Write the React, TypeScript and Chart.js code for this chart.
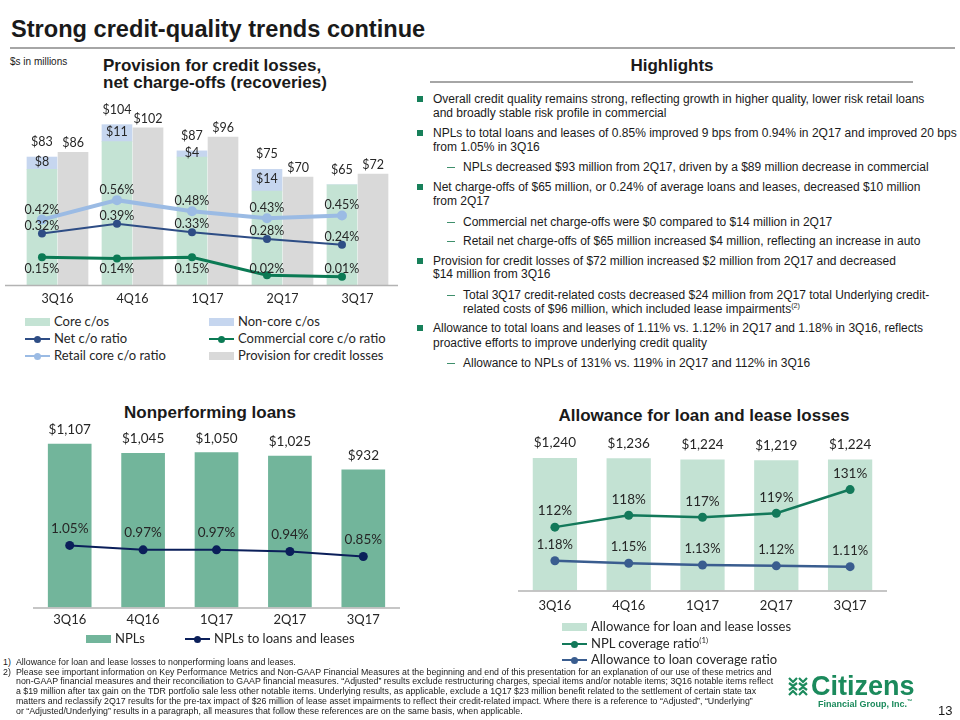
import React, { useEffect, useRef } from 'react';
import { Chart, registerables } from 'chart.js';

Chart.register(...registerables);

// ---------- data ----------
const quarters = ['3Q16', '4Q16', '1Q17', '2Q17', '3Q17'];

const coreCos = [75, 93, 83, 61, 65];
const nonCoreCos = [8, 11, 4, 14, 0];
const provision = [86, 102, 96, 70, 72];
const netCoRatio = [0.32, 0.39, 0.33, 0.28, 0.24];
const commercialCoRatio = [0.15, 0.14, 0.15, 0.02, 0.01];
const retailCoRatio = [0.42, 0.56, 0.48, 0.43, 0.45];

const npls = [1107, 1045, 1050, 1025, 932];
const nplRatio = [1.05, 0.97, 0.97, 0.94, 0.85];

const alll = [1240, 1236, 1224, 1219, 1224];
const nplCoverage = [112, 118, 117, 119, 131];
const allowanceToLoans = [1.18, 1.15, 1.13, 1.12, 1.11];

// ---------- style ----------
const SLIDE_FONT = '"Liberation Sans", Arial, sans-serif';
const CHART_FONT = 'Lato, "Liberation Sans", sans-serif';
const TXT = '#1a1a1a';
const LBL = '#262626';
const AXIS = '#b3b3b3';

const C = {
  core: '#c4e3d4',
  noncore: '#c6d6ef',
  prov: '#d9d9d9',
  retail: '#9bbbe4',
  net: '#2e4d85',
  comm: '#0b7a54',
  nplBar: '#72b59b',
  nplLine: '#0b1f5a',
  alllBar: '#c3e2d3',
  cov: '#13795a',
  allow: '#3a5d8f',
  green: '#1b8a5c',
};

const money = (v: number) => '$' + v.toLocaleString('en-US');
const pct2 = (v: number) => v.toFixed(2) + '%';

function axisLinePlugin(extLeft: number, extRight: number) {
  return {
    id: 'axisLine',
    afterDatasetsDraw(chart: any) {
      const { ctx, chartArea } = chart;
      ctx.save();
      ctx.strokeStyle = AXIS;
      ctx.lineWidth = 1.5;
      ctx.beginPath();
      ctx.moveTo(chartArea.left - extLeft, chartArea.bottom + 0.5);
      ctx.lineTo(chartArea.right + extRight, chartArea.bottom + 0.5);
      ctx.stroke();
      ctx.restore();
    },
  };
}

function text(ctx: any, s: string, x: number, y: number, size: number) {
  ctx.font = `${size}px ${CHART_FONT}`;
  ctx.fillStyle = LBL;
  ctx.textAlign = 'center';
  ctx.textBaseline = 'middle';
  ctx.fillText(s, x, y);
}

// ---------- chart 1 ----------
// bars of one quarter sit side by side: charge-offs left of the quarter centre, provision right
const GROUP_SHIFT = 0.207; // in quarter units
const BAR_W1 = 30;

function makeChart1(): any {
  const at = (arr: number[], dx: number) => arr.map((v, i) => ({ x: i + dx, y: v }));
  const lineDs = (label: string, data: number[], color: string, width: number, r: number) => ({
    type: 'line',
    label,
    data: at(data, -GROUP_SHIFT),
    yAxisID: 'yRatio',
    borderColor: color,
    backgroundColor: color,
    borderWidth: width,
    pointRadius: r,
    pointBorderWidth: 0,
    pointBackgroundColor: color,
    tension: 0,
    order: 0,
  });
  const barDs = (label: string, data: number[], dx: number, color: string, stack: string) => ({
    type: 'bar', label, data: at(data, dx), backgroundColor: color, stack, order: 1,
    grouped: false, barThickness: BAR_W1,
  });
  return {
    type: 'bar',
    data: {
      datasets: [
        barDs('Core c/os', coreCos, -GROUP_SHIFT, C.core, 'cos'),
        barDs('Non-core c/os', nonCoreCos, -GROUP_SHIFT, C.noncore, 'cos'),
        barDs('Provision for credit losses', provision, GROUP_SHIFT, C.prov, 'prov'),
        lineDs('Retail core c/o ratio', retailCoRatio, C.retail, 4, 5),
        lineDs('Net c/o ratio', netCoRatio, C.net, 2, 4),
        lineDs('Commercial core c/o ratio', commercialCoRatio, C.comm, 3, 4),
      ],
    },
    options: {
      responsive: false,
      animation: false,
      layout: { padding: { left: 20, right: 10, top: 5, bottom: 0 } },
      plugins: { legend: { display: false }, tooltip: { enabled: false } },
      scales: {
        x: {
          type: 'linear', offset: false, min: -0.5, max: 4.5,
          afterBuildTicks: (axis: any) => { axis.ticks = quarters.map((_, i) => ({ value: i })); },
          grid: { display: false, drawTicks: false }, border: { display: false },
          ticks: {
            padding: 6, color: LBL, font: { family: CHART_FONT, size: 12.5 },
            autoSkip: false, maxRotation: 0,
            callback: (v: number) => quarters[Math.round(v)] ?? '',
          },
        },
        y: { display: false, stacked: true, min: 0, max: 120 },
        yRatio: { display: false, min: -0.05, max: 1.28 },
      },
    },
    plugins: [
      axisLinePlugin(15, 3),
      {
        id: 'labels1',
        afterDatasetsDraw(chart: any) {
          const ctx = chart.ctx;
          ctx.save();
          const mCore = chart.getDatasetMeta(0).data;
          const mNon = chart.getDatasetMeta(1).data;
          const mProv = chart.getDatasetMeta(2).data;
          const mRet = chart.getDatasetMeta(3).data;
          const mNet = chart.getDatasetMeta(4).data;
          const mCom = chart.getDatasetMeta(5).data;
          const bottom = chart.chartArea.bottom;
          quarters.forEach((_, i) => {
            const top = Math.min(mCore[i].y, mNon[i].y);
            text(ctx, money(coreCos[i] + nonCoreCos[i]), mCore[i].x, top - 15, 12.5);
            if (nonCoreCos[i] > 0) {
              text(ctx, money(nonCoreCos[i]), mNon[i].x, (mNon[i].y + mNon[i].base) / 2 - 1, 12.5);
            }
            text(ctx, money(provision[i]), mProv[i].x, mProv[i].y - 9, 12.5);
            text(ctx, pct2(retailCoRatio[i]), mRet[i].x, mRet[i].y - 10, 12.5);
            text(ctx, pct2(netCoRatio[i]), mNet[i].x, mNet[i].y - 8, 12.5);
            text(ctx, pct2(commercialCoRatio[i]), mCom[i].x, Math.min(mCom[i].y + 12, bottom - 16), 12.5);
          });
          ctx.restore();
        },
      },
    ],
  };
}

// ---------- chart 2 ----------
function makeChart2(): any {
  return {
    type: 'bar',
    data: {
      labels: quarters,
      datasets: [
        {
          type: 'line', label: 'NPLs to loans and leases', data: nplRatio, yAxisID: 'yRatio',
          borderColor: C.nplLine, backgroundColor: C.nplLine, borderWidth: 2, pointRadius: 4.5,
          pointBorderWidth: 0, tension: 0, order: 0,
        },
        {
          type: 'bar', label: 'NPLs', data: npls, backgroundColor: C.nplBar,
          categoryPercentage: 0.595, barPercentage: 1, order: 1,
        },
      ],
    },
    options: {
      responsive: false,
      animation: false,
      layout: { padding: { left: 33, right: 10, top: 10, bottom: 0 } },
      plugins: { legend: { display: false }, tooltip: { enabled: false } },
      scales: {
        x: {
          offset: true,
          grid: { display: false, drawTicks: false }, border: { display: false },
          ticks: { padding: 4.5, color: LBL, font: { family: CHART_FONT, size: 13 } },
        },
        y: { display: false, min: 0, max: 1200 },
        yRatio: { display: false, min: -0.06, max: 3.115 },
      },
    },
    plugins: [
      axisLinePlugin(0, 0),
      {
        id: 'labels2',
        afterDatasetsDraw(chart: any) {
          const ctx = chart.ctx;
          ctx.save();
          const mLine = chart.getDatasetMeta(0).data;
          const mBar = chart.getDatasetMeta(1).data;
          quarters.forEach((_, i) => {
            text(ctx, money(npls[i]), mBar[i].x, mBar[i].y - 14, 13.5);
            text(ctx, pct2(nplRatio[i]), mLine[i].x, mLine[i].y - 17, 13.5);
          });
          ctx.restore();
        },
      },
    ],
  };
}

// ---------- chart 3 ----------
function makeChart3(): any {
  return {
    type: 'bar',
    data: {
      labels: quarters,
      datasets: [
        {
          type: 'line', label: 'NPL coverage ratio', data: nplCoverage, yAxisID: 'yCov',
          borderColor: C.cov, backgroundColor: C.cov, borderWidth: 2.5, pointRadius: 4.5,
          pointBorderWidth: 0, tension: 0, order: 0,
        },
        {
          type: 'line', label: 'Allowance to loan coverage ratio', data: allowanceToLoans, yAxisID: 'yAllow',
          borderColor: C.allow, backgroundColor: C.allow, borderWidth: 2.5, pointRadius: 4.5,
          pointBorderWidth: 0, tension: 0, order: 0,
        },
        {
          type: 'bar', label: 'Allowance for loan and lease losses', data: alll, backgroundColor: C.alllBar,
          categoryPercentage: 0.6, barPercentage: 1, order: 1,
        },
      ],
    },
    options: {
      responsive: false,
      animation: false,
      layout: { padding: { left: 38, right: 13, top: 31.5, bottom: 0 } },
      plugins: { legend: { display: false }, tooltip: { enabled: false } },
      scales: {
        x: {
          offset: true,
          grid: { display: false, drawTicks: false }, border: { display: false },
          ticks: { padding: 7.5, color: LBL, font: { family: CHART_FONT, size: 13 } },
        },
        y: { display: false, min: 0, max: 1300 },
        yCov: { display: false, min: 80, max: 150.25 },
        yAllow: { display: false, min: 0.831, max: 2.465 },
      },
    },
    plugins: [
      axisLinePlugin(0, 0),
      {
        id: 'labels3',
        afterDatasetsDraw(chart: any) {
          const ctx = chart.ctx;
          ctx.save();
          const mCov = chart.getDatasetMeta(0).data;
          const mAl = chart.getDatasetMeta(1).data;
          const mBar = chart.getDatasetMeta(2).data;
          quarters.forEach((_, i) => {
            text(ctx, money(alll[i]), mBar[i].x, mBar[i].y - 15, 13.5);
            text(ctx, nplCoverage[i] + '%', mCov[i].x, mCov[i].y - 16, 13.5);
            text(ctx, pct2(allowanceToLoans[i]), mAl[i].x, mAl[i].y - 16, 13);
          });
          ctx.restore();
        },
      },
    ],
  };
}

// ---------- components ----------
function ChartBox({ left, top, width, height, make }: any) {
  const ref = useRef<HTMLCanvasElement>(null);
  useEffect(() => {
    const chart = new Chart(ref.current as HTMLCanvasElement, make());
    return () => chart.destroy();
  }, []);
  return (
    <div style={{ position: 'absolute', left, top, width, height }}>
      <canvas ref={ref} width={width} height={height} style={{ width, height, display: 'block' }} />
    </div>
  );
}

function T({ x, y, size = 12, bold = false, color = TXT, center = false, font = SLIDE_FONT, children }: any) {
  return (
    <div
      style={{
        position: 'absolute',
        left: x,
        top: y - size * 0.62,
        fontSize: size,
        lineHeight: 1.2,
        fontWeight: bold ? 700 : 400,
        fontFamily: font,
        color,
        whiteSpace: 'nowrap',
        transform: center ? 'translateX(-50%)' : undefined,
      }}
    >
      {children}
    </div>
  );
}

function LegendItem({ x, y, kind, color, children }: any) {
  return (
    <>
      {kind === 'bar' ? (
        <div style={{ position: 'absolute', left: x, top: y - 4, width: 25, height: 8, background: color }} />
      ) : (
        <>
          <div style={{ position: 'absolute', left: x, top: y - 1.25, width: 25, height: 2.5, background: color }} />
          <div style={{ position: 'absolute', left: x + 9, top: y - 3.5, width: 7, height: 7, borderRadius: '50%', background: color }} />
        </>
      )}
      <T x={x + 29} y={y} size={13} font={CHART_FONT} color={LBL}>{children}</T>
    </>
  );
}

const SUP = (s: string) => <sup style={{ fontSize: '0.6em', verticalAlign: 'super', lineHeight: 0 }}>{s}</sup>;

type HL = { k: 'b' | 'c' | 's' | 'sc'; y: number; t: React.ReactNode };
const highlights: HL[] = [
  { k: 'b', y: 99, t: 'Overall credit quality remains strong, reflecting growth in higher quality, lower risk retail loans' },
  { k: 'c', y: 113, t: 'and broadly stable risk profile in commercial' },
  { k: 'b', y: 133, t: 'NPLs to total loans and leases of 0.85% improved 9 bps from 0.94% in 2Q17 and improved 20 bps' },
  { k: 'c', y: 147, t: 'from 1.05% in 3Q16' },
  { k: 's', y: 167, t: 'NPLs decreased $93 million from 2Q17, driven by a $89 million decrease in commercial' },
  { k: 'b', y: 187, t: 'Net charge-offs of $65 million, or 0.24% of average loans and leases, decreased $10 million' },
  { k: 'c', y: 201, t: 'from 2Q17' },
  { k: 's', y: 222, t: 'Commercial net charge-offs were $0 compared to $14 million in 2Q17' },
  { k: 's', y: 241, t: 'Retail net charge-offs of $65 million increased $4 million, reflecting an increase in auto' },
  { k: 'b', y: 261, t: 'Provision for credit losses of $72 million increased $2 million from 2Q17 and decreased' },
  { k: 'c', y: 274, t: '$14 million from 3Q16' },
  { k: 's', y: 295, t: 'Total 3Q17 credit-related costs decreased $24 million from 2Q17 total Underlying credit-' },
  { k: 'sc', y: 309, t: <>related costs of $96 million, which included lease impairments{SUP('(2)')}</> },
  { k: 'b', y: 328, t: 'Allowance to total loans and leases of 1.11% vs. 1.12% in 2Q17 and 1.18% in 3Q16, reflects' },
  { k: 'c', y: 343, t: 'proactive efforts to improve underlying credit quality' },
  { k: 's', y: 363, t: 'Allowance to NPLs of 131% vs. 119% in 2Q17 and 112% in 3Q16' },
];

const footnotes = [
  'Please see important information on Key Performance Metrics and Non-GAAP Financial Measures at the beginning and end of this presentation for an explanation of our use of these metrics and',
  'non-GAAP financial measures and their reconciliation to GAAP financial measures. \u201CAdjusted\u201D results exclude restructuring charges, special items and/or notable items; 3Q16 notable items reflect',
  'a $19 million after tax gain on the TDR portfolio sale less other notable items. Underlying results, as applicable, exclude a 1Q17 $23 million benefit related to the settlement of certain state tax',
  'matters and reclassify 2Q17 results for the pre-tax impact of $26 million of lease asset impairments to reflect their credit-related impact. Where there is a reference to \u201CAdjusted\u201D, \u201CUnderlying\u201D',
  'or \u201CAdjusted/Underlying\u201D results in a paragraph, all measures that follow these references are on the same basis, when applicable.',
];

function Logo() {
  return (
    <>
      <svg style={{ position: 'absolute', left: 788, top: 677 }} width="20" height="19" viewBox="0 0 20 19">
        <g fill="none" stroke={C.green} strokeWidth="2.2" strokeLinejoin="miter">
          <polyline points="1,1 5,5 9,1" />
          <polyline points="11,1 15,5 19,1" />
          <polyline points="1,6 5,9 9,6" />
          <polyline points="11,6 15,9 19,6" />
          <polyline points="1,13 5,10 9,13" />
          <polyline points="11,13 15,10 19,13" />
          <polyline points="1,18 5,14 9,18" />
          <polyline points="11,18 15,14 19,18" />
        </g>
      </svg>
      <T x={811} y={687} size={27} bold color={C.green}>Citizens</T>
      <T x={818} y={705} size={9} bold color={C.green}>Financial Group, Inc.{SUP('\u2122')}</T>
    </>
  );
}

export default function App() {
  return (
    <div
      style={{
        position: 'fixed', left: 0, top: 0, width: 960, height: 720, background: '#fff',
        overflow: 'hidden', fontFamily: SLIDE_FONT, color: TXT,
      }}
    >
      <T x={11} y={30} size={23.6} bold>Strong credit-quality trends continue</T>
      <div style={{ position: 'absolute', left: 10, top: 47, width: 945, height: 2, background: '#a6a6a6' }} />
      <T x={10} y={62} size={10}>$s in millions</T>
      <T x={103} y={67} size={17} bold>Provision for credit losses,</T>
      <T x={103} y={84} size={17} bold>net charge-offs (recoveries)</T>

      <T x={672} y={67} size={17} bold center>Highlights</T>
      <div style={{ position: 'absolute', left: 430, top: 81, width: 483, height: 2, background: '#a6a6a6' }} />
      {highlights.map((h, i) => {
        const x = h.k === 'b' || h.k === 'c' ? 433 : 463;
        return (
          <React.Fragment key={i}>
            {h.k === 'b' && (
              <div style={{ position: 'absolute', left: 417, top: h.y - 3, width: 6, height: 6, background: '#17805a' }} />
            )}
            {h.k === 's' && (
              <div style={{ position: 'absolute', left: 447, top: h.y, width: 8, height: 1.2, background: '#3f8f6c' }} />
            )}
            <T x={x} y={h.y} size={12}>{h.t}</T>
          </React.Fragment>
        );
      })}

      <ChartBox left={0} top={95} width={405} height={217} make={makeChart1} />
      <LegendItem x={25} y={322} kind="bar" color={C.core}>Core c/os</LegendItem>
      <LegendItem x={209} y={322} kind="bar" color={C.noncore}>Non-core c/os</LegendItem>
      <LegendItem x={25} y={339} kind="line" color={C.net}>Net c/o ratio</LegendItem>
      <LegendItem x={209} y={339} kind="line" color={C.comm}>Commercial core c/o ratio</LegendItem>
      <LegendItem x={25} y={356} kind="line" color={C.retail}>Retail core c/o ratio</LegendItem>
      <LegendItem x={209} y={356} kind="bar" color={C.prov}>Provision for credit losses</LegendItem>

      <T x={210} y={414} size={17} bold center>Nonperforming loans</T>
      <ChartBox left={0} top={420} width={410} height={212} make={makeChart2} />
      <LegendItem x={86} y={639} kind="bar" color={C.nplBar}>NPLs</LegendItem>
      <LegendItem x={185} y={639} kind="line" color={C.nplLine}>NPLs to loans and leases</LegendItem>

      <T x={704} y={417} size={17} bold center>Allowance for loan and lease losses</T>
      <ChartBox left={480} top={420} width={420} height={201} make={makeChart3} />
      <LegendItem x={562} y={627} kind="bar" color={C.alllBar}>Allowance for loan and lease losses</LegendItem>
      <LegendItem x={562} y={644} kind="line" color={C.cov}>NPL coverage ratio{SUP('(1)')}</LegendItem>
      <LegendItem x={562} y={660} kind="line" color={C.allow}>Allowance to loan coverage ratio</LegendItem>

      <T x={3} y={662} size={8.8}>1)</T>
      <T x={16} y={662} size={8.8}>Allowance for loan and lease losses to nonperforming loans and leases.</T>
      <T x={3} y={672} size={8.8}>2)</T>
      {footnotes.map((f, i) => (
        <T key={i} x={16} y={672 + i * 9.8} size={8.8}>{f}</T>
      ))}

      <Logo />
      <T x={938} y={711} size={13}>13</T>
    </div>
  );
}
